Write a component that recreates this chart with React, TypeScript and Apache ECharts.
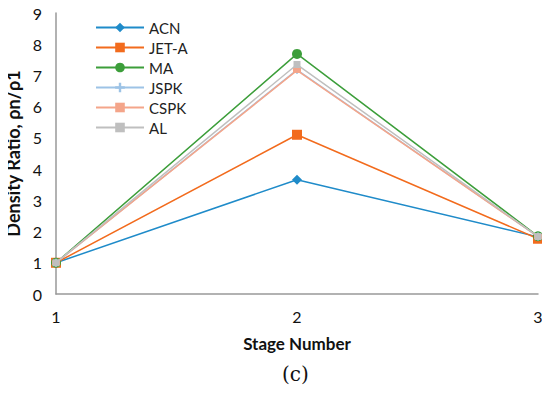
import React, { useEffect, useRef } from "react";
import * as echarts from "echarts";

const stages = [1, 2, 3];
const seriesNames = ["ACN", "JET-A", "MA", "JSPK", "CSPK", "AL"];
const acn = [1.0, 3.66, 1.83];
const jetA = [1.0, 5.1, 1.77];
const ma = [1.0, 7.69, 1.85];
const jspk = [1.0, 7.18, 1.84];
const cspk = [1.0, 7.16, 1.84];
const al = [1.0, 7.35, 1.84];
const yTicks = [0, 1, 2, 3, 4, 5, 6, 7, 8, 9];

const colors = ["#1F8BC9", "#F26B1D", "#3C9E3A", "#9DC3E6", "#F4A58A", "#BFBFBF"];
const symbols = [
  "diamond",
  "rect",
  "circle",
  "path://M3,0 H5 V3 H8 V5 H5 V8 H3 V5 H0 V3 H3 Z",
  "rect",
  "rect",
];
const sizes: any[] = [10, 10, 10, 8, [8, 5], 7];

export default function App() {
  const ref = useRef<HTMLDivElement>(null);
  useEffect(() => {
    const chart = echarts.init(ref.current!, null, { renderer: "svg" });
    const data = [acn, jetA, ma, jspk, cspk, al];
    chart.setOption({
      animation: false,
      textStyle: { fontFamily: "Lato" },
      grid: { left: 56, right: 12, top: 13, bottom: 100, outerBoundsMode: "none", containLabel: false },
      legend: {
        orient: "vertical",
        left: 90,
        top: 15,
        itemGap: 5,
        itemWidth: 48,
        itemHeight: 12,
        data: seriesNames,
        textStyle: { fontSize: 15, color: "#222", fontFamily: "Lato" },
      },
      xAxis: {
        type: "value",
        min: 1,
        max: 3,
        interval: 1,
        name: "Stage Number",
        nameLocation: "middle",
        nameGap: 41,
        nameTextStyle: { fontSize: 17, fontWeight: "bold", color: "#111" },
        axisLine: { lineStyle: { color: "#999", width: 1.5 } },
        axisTick: { show: false },
        splitLine: { show: false },
        axisLabel: { fontSize: 16, color: "#111", margin: 14 },
      },
      yAxis: {
        type: "value",
        min: 0,
        max: 9,
        interval: 1,
        name: "Density Ratio, ρn/ρ1",
        nameLocation: "middle",
        nameGap: 29,
        nameTextStyle: { fontSize: 18, fontWeight: "bold", color: "#111" },
        axisLine: { show: true, lineStyle: { color: "#999", width: 1.5 } },
        axisTick: { show: false },
        splitLine: { show: false },
        axisLabel: {
          fontSize: 16,
          color: "#111",
          margin: 14,
          formatter: (v: number) => (yTicks.includes(v) ? String(v) : ""),
        },
      },
      series: seriesNames.map((name, i) => ({
        name,
        type: "line",
        data: stages.map((s, j) => [s, data[i][j]]),
        symbol: symbols[i],
        symbolSize: sizes[i],
        showAllSymbol: true,
        lineStyle: { color: colors[i], width: 1.5 },
        itemStyle: { color: colors[i] },
        z: 2 + i,
      })),
      graphic: [
        {
          type: "text",
          left: 282,
          top: 364,
          style: { text: "(c)", font: "20px 'DejaVu Serif', serif", fill: "#111" },
        },
      ],
    });
    return () => chart.dispose();
  }, []);
  return <div ref={ref} style={{ width: 550, height: 394, margin: -8 }} />;
}
